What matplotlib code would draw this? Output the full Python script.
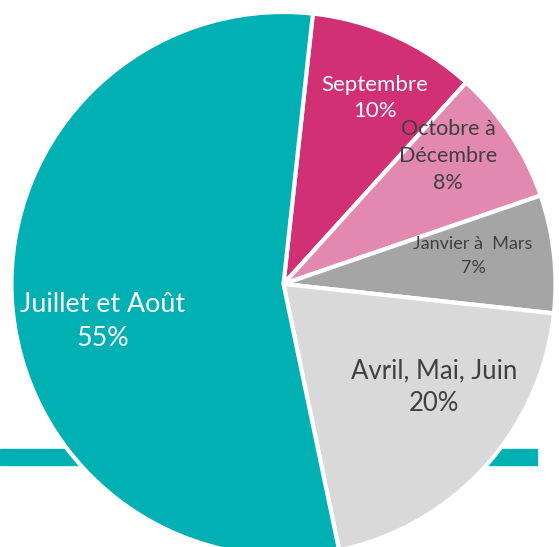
import matplotlib.pyplot as plt
from matplotlib.patches import Rectangle

# data
labels = ['Septembre', 'Octobre à\nDécembre', 'Janvier à  Mars', 'Avril, Mai, Juin', 'Juillet et Août']
values = [10, 8, 7, 20, 55]
colors = ['#D13075', '#E388AE', '#A5A5A5', '#D9D9D9', '#00B0B3']
text_colors = ['white', '#404040', '#404040', '#404040', 'white']

# label layout (pixel positions in the picture, font sizes)
label_pos = [(375, 98), (448, 156), (473, 256), (434, 387), (103, 321)]
label_size = [16, 15.5, 13, 18.5, 19.3]
label_gap = [1.4, 1.45, 1.6, 1.4, 1.45]

W, H = 559, 547
fig = plt.figure(figsize=(W / 100, H / 100), dpi=100)
ax = fig.add_axes([0, 0, 1, 1])

# teal bar behind the pie
ax.add_patch(Rectangle((0, H - 465), 537, 16, color='#00B0B3', zorder=0))

ax.pie(values, colors=colors, startangle=83.8, counterclock=False,
       center=(283.5, H - 284), radius=272, frame=True,
       wedgeprops=dict(edgecolor='white', linewidth=3, zorder=1))
ax.set_xlim(0, W)
ax.set_ylim(0, H)
ax.set_aspect('equal')
ax.axis('off')

for lab, v, (x, y), s, c, g in zip(labels, values, label_pos, label_size, text_colors, label_gap):
    ax.text(x, H - y, f'{lab}\n{v}%', ha='center', va='center', fontsize=s,
            color=c, family='Lato', linespacing=g, zorder=3)

fig.savefig('out.png', dpi=100)
